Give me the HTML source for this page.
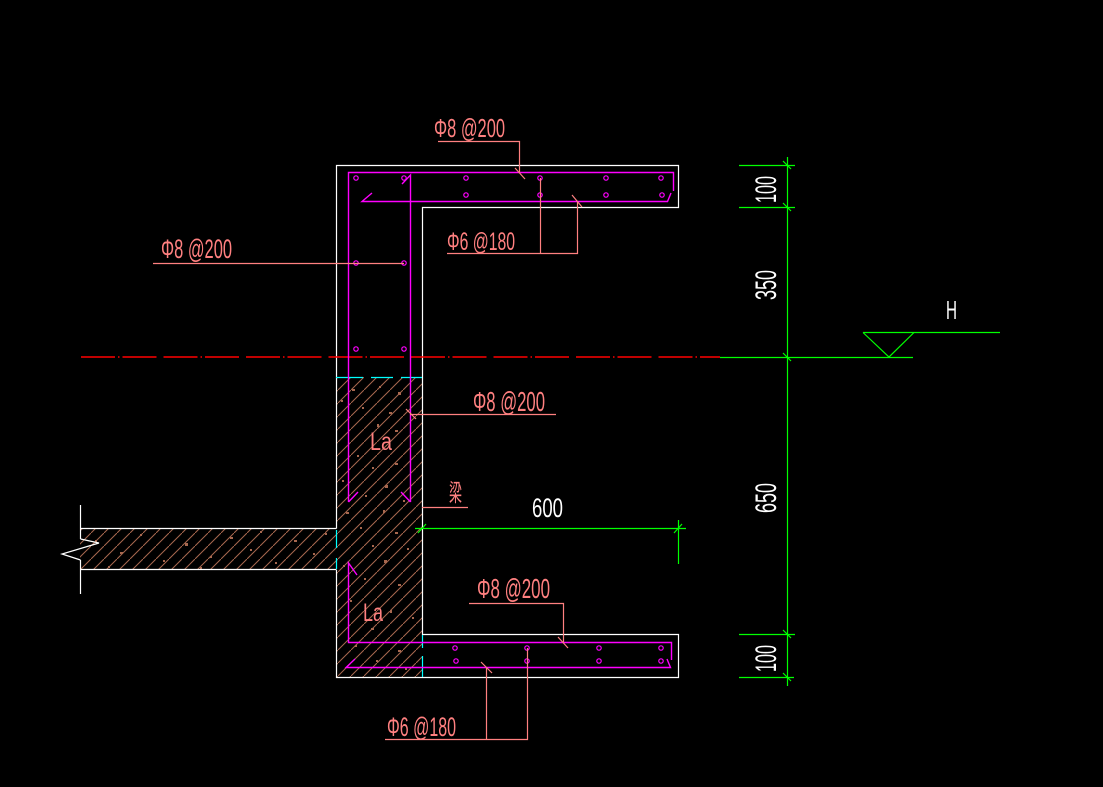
<!DOCTYPE html>
<html><head><meta charset="utf-8"><style>
html,body{margin:0;padding:0;background:#000;}
svg{display:block;}
text{font-family:"Liberation Sans","Noto Sans CJK SC",sans-serif;}
</style></head><body>
<svg width="1103" height="787" viewBox="0 0 1103 787" xmlns="http://www.w3.org/2000/svg">
<defs>
<pattern id="h" patternUnits="userSpaceOnUse" width="13" height="13">
<line x1="0" y1="13" x2="13" y2="0" stroke="#a8684f" stroke-width="1"/>
</pattern>
<clipPath id="c"><rect x="80" y="528" width="256" height="42"/><rect x="336" y="377" width="86" height="300"/></clipPath>
</defs>
<rect width="1103" height="787" fill="#000"/>
<!-- hatch -->
<g clip-path="url(#c)">
<rect x="80" y="528" width="256" height="42" fill="url(#h)"/>
<rect x="336" y="377" width="86" height="300" fill="url(#h)"/>
</g>
<g fill="#a8684f">
<rect x="352" y="389" width="3" height="2"/><rect x="379" y="386" width="2" height="2"/><rect x="398" y="392" width="3" height="3"/>
<rect x="362" y="407" width="2" height="2"/><rect x="389" y="412" width="3" height="2"/><rect x="341" y="400" width="2" height="2"/>
<rect x="377" y="424" width="2" height="3"/><rect x="395" y="430" width="3" height="2"/><rect x="357" y="455" width="2" height="2"/>
<rect x="395" y="463" width="3" height="2"/><rect x="372" y="467" width="2" height="2"/><rect x="342" y="480" width="2" height="2"/>
<rect x="385" y="485" width="3" height="3"/><rect x="365" y="495" width="2" height="2"/><rect x="403" y="500" width="2" height="2"/>
<rect x="346" y="512" width="3" height="2"/><rect x="383" y="510" width="2" height="3"/><rect x="360" y="527" width="2" height="2"/>
<rect x="395" y="532" width="3" height="2"/><rect x="372" y="545" width="2" height="2"/><rect x="407" y="548" width="2" height="2"/>
<rect x="384" y="560" width="3" height="3"/><rect x="343" y="565" width="2" height="2"/><rect x="364" y="578" width="2" height="2"/>
<rect x="398" y="584" width="3" height="2"/><rect x="350" y="600" width="2" height="2"/><rect x="390" y="610" width="2" height="3"/>
<rect x="412" y="617" width="2" height="2"/><rect x="371" y="628" width="3" height="2"/><rect x="355" y="645" width="2" height="2"/>
<rect x="398" y="650" width="3" height="2"/><rect x="376" y="660" width="2" height="2"/><rect x="405" y="668" width="2" height="2"/>
<rect x="95" y="540" width="2" height="2"/><rect x="120" y="552" width="3" height="2"/><rect x="140" y="534" width="2" height="2"/>
<rect x="163" y="560" width="2" height="2"/><rect x="185" y="543" width="3" height="3"/><rect x="210" y="556" width="2" height="2"/>
<rect x="230" y="537" width="3" height="2"/><rect x="250" y="549" width="2" height="2"/><rect x="275" y="562" width="2" height="2"/>
<rect x="294" y="540" width="3" height="2"/><rect x="313" y="553" width="2" height="2"/><rect x="325" y="533" width="2" height="2"/>
<rect x="108" y="566" width="2" height="2"/><rect x="200" y="567" width="2" height="2"/><rect x="260" y="531" width="2" height="2"/>
</g>
<!-- white outlines -->
<g stroke="#fff" stroke-width="1.2" fill="none">
<polyline points="336.5,528.5 336.5,165.5 678.5,165.5 678.5,207.5 422.5,207.5 422.5,634.5 678.5,634.5 678.5,677.5 336.5,677.5 336.5,570"/>
<polyline points="336.5,528.5 80.5,528.5"/>
<polyline points="336.5,569.5 80.5,569.5"/>
<line x1="80.5" y1="505" x2="80.5" y2="539"/>
<line x1="80.5" y1="560" x2="80.5" y2="594"/>
<polyline points="80.5,539 99,543 62,554 80.5,560"/>
</g>
<!-- cyan -->
<g stroke="#00ffff" stroke-width="1.2">
<line x1="336" y1="377.5" x2="363" y2="377.5"/><line x1="371" y1="377.5" x2="393" y2="377.5"/><line x1="401" y1="377.5" x2="422" y2="377.5"/>
<line x1="336.5" y1="530" x2="336.5" y2="548"/><line x1="336.5" y1="558" x2="336.5" y2="569"/>
<line x1="422.5" y1="635" x2="422.5" y2="648"/><line x1="422.5" y1="656" x2="422.5" y2="677"/>
</g>
<!-- centerline -->
<line x1="81" y1="357" x2="720" y2="357" stroke="#ff0000" stroke-width="1.6" stroke-dasharray="34,3,1.5,3,34,7"/>
<!-- magenta rebar -->
<g stroke="#ff00ff" stroke-width="1.4" fill="none">
<polyline points="348.5,502 348.5,172.5 673.5,172.5 673.5,191"/>
<polyline points="372,193 362,201.5 667.5,201.5 671,193"/>
<polyline points="402,184 410.5,175 410.5,502"/>
<line x1="348.5" y1="502" x2="358" y2="492"/>
<line x1="410.5" y1="502" x2="401" y2="492"/>
<polyline points="357,575 348.5,563 348.5,642.5 671.5,642.5 671.5,660"/>
<polyline points="355,659 346,667.5 670.5,667.5 667,659"/>
</g>
<g stroke="#ff00ff" stroke-width="1.2" fill="none">
<circle cx="356" cy="178" r="2.2"/><circle cx="404" cy="178" r="2.2"/><circle cx="466" cy="178" r="2.2"/><circle cx="540" cy="178" r="2.2"/><circle cx="606" cy="178" r="2.2"/><circle cx="661" cy="178" r="2.2"/>
<circle cx="466" cy="195" r="2.2"/><circle cx="540" cy="195" r="2.2"/><circle cx="606" cy="195" r="2.2"/><circle cx="662" cy="195" r="2.2"/>
<circle cx="356" cy="263" r="2.2"/><circle cx="404" cy="263" r="2.2"/><circle cx="356" cy="349" r="2.2"/><circle cx="404" cy="349" r="2.2"/>
<circle cx="455" cy="648" r="2.2"/><circle cx="527" cy="648" r="2.2"/><circle cx="599" cy="648" r="2.2"/><circle cx="661" cy="648" r="2.2"/>
<circle cx="456" cy="661" r="2.2"/><circle cx="527" cy="661" r="2.2"/><circle cx="599" cy="661" r="2.2"/><circle cx="661" cy="661" r="2.2"/>
</g>
<!-- salmon leaders -->
<g stroke="#ff8080" stroke-width="1.2" fill="none">
<polyline points="438,141.5 519.5,141.5 519.5,172"/><line x1="515" y1="168" x2="525" y2="179"/>
<polyline points="447,253.5 577.5,253.5 577.5,202"/><line x1="540.5" y1="178" x2="540.5" y2="253"/><line x1="572" y1="195" x2="582" y2="207"/>
<line x1="153" y1="263.5" x2="404" y2="263.5"/>
<line x1="410" y1="414.5" x2="556" y2="414.5"/><line x1="406" y1="409" x2="416" y2="419"/>
<line x1="422" y1="507.5" x2="468" y2="507.5"/>
<polyline points="469,603.5 563.5,603.5 563.5,642"/><line x1="558" y1="637" x2="568" y2="648"/>
<polyline points="385,739.5 527.5,739.5 527.5,648"/><line x1="486.5" y1="667" x2="486.5" y2="739"/><line x1="481" y1="662" x2="492" y2="673"/>
</g>
<g fill="#ff8080">
<text x="434" y="137" font-size="26" textLength="71" lengthAdjust="spacingAndGlyphs">Φ8 @200</text>
<text x="447" y="250" font-size="25" textLength="68" lengthAdjust="spacingAndGlyphs">Φ6 @180</text>
<text x="161" y="258" font-size="27" textLength="71" lengthAdjust="spacingAndGlyphs">Φ8 @200</text>
<text x="473" y="411" font-size="28" textLength="72" lengthAdjust="spacingAndGlyphs">Φ8 @200</text>
<text x="477" y="598" font-size="28" textLength="73" lengthAdjust="spacingAndGlyphs">Φ8 @200</text>
<text x="387" y="736" font-size="27" textLength="69" lengthAdjust="spacingAndGlyphs">Φ6 @180</text>
<text x="370" y="450" font-size="25" textLength="22" lengthAdjust="spacingAndGlyphs">La</text>
<text x="363" y="621" font-size="25" textLength="20" lengthAdjust="spacingAndGlyphs">La</text>
<text x="449" y="501" font-size="24" textLength="13" lengthAdjust="spacingAndGlyphs">梁</text>
</g>
<!-- green dimensions -->
<g stroke="#00ff00" stroke-width="1.2" fill="none">
<line x1="787.5" y1="157" x2="787.5" y2="686"/>
<line x1="739" y1="165.5" x2="795" y2="165.5"/>
<line x1="739" y1="207.5" x2="795" y2="207.5"/>
<line x1="720" y1="357.5" x2="913" y2="357.5"/>
<line x1="739" y1="634.5" x2="795" y2="634.5"/>
<line x1="739" y1="677.5" x2="794" y2="677.5"/>
<line x1="783" y1="161" x2="791" y2="169"/><line x1="783" y1="203" x2="791" y2="211"/>
<line x1="783" y1="353" x2="791" y2="361"/><line x1="783" y1="630" x2="791" y2="638"/><line x1="783" y1="673" x2="791" y2="681"/>
<line x1="415" y1="528.5" x2="686" y2="528.5"/>
<line x1="678.5" y1="520" x2="678.5" y2="564"/>
<line x1="418" y1="533" x2="426" y2="524"/><line x1="674" y1="533" x2="682" y2="524"/>
<polyline points="863,332.5 1000,332.5"/>
<polyline points="863,332.5 889,357 914,332.5"/>
</g>
<g fill="#fff">
<text x="532" y="517" font-size="27" textLength="31" lengthAdjust="spacingAndGlyphs">600</text>
<text x="946" y="319" font-size="26" textLength="11" lengthAdjust="spacingAndGlyphs">H</text>
<text transform="translate(776,203) rotate(-90)" font-size="30" textLength="27" lengthAdjust="spacingAndGlyphs">100</text>
<text transform="translate(776,300) rotate(-90)" font-size="30" textLength="30" lengthAdjust="spacingAndGlyphs">350</text>
<text transform="translate(776,513) rotate(-90)" font-size="30" textLength="30" lengthAdjust="spacingAndGlyphs">650</text>
<text transform="translate(776,672) rotate(-90)" font-size="30" textLength="27" lengthAdjust="spacingAndGlyphs">100</text>
</g>
</svg>
</body></html>
